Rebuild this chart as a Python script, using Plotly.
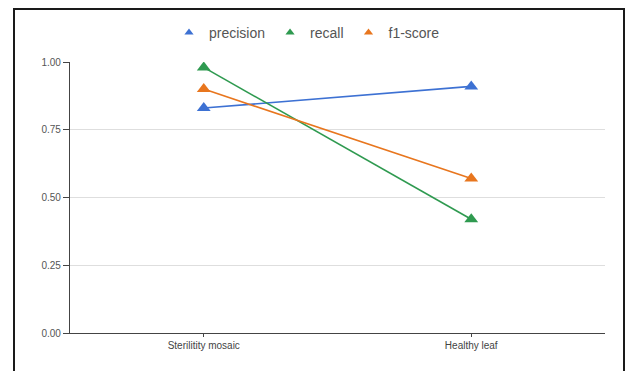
import plotly.graph_objects as go

# Per-class metrics
classes = ["Sterilitity mosaic", "Healthy leaf"]
precision = [0.83, 0.91]
recall = [0.98, 0.42]
f1_score = [0.90, 0.57]

y_ticks = [0.00, 0.25, 0.50, 0.75, 1.00]

series = [
    ("precision", precision, "#3d71d3"),
    ("recall", recall, "#2f9a50"),
    ("f1-score", f1_score, "#e8761e"),
]

fig = go.Figure()
for name, vals, color in series:
    fig.add_trace(go.Scatter(
        x=classes, y=vals, mode="lines+markers", name=name,
        line=dict(color=color, width=1.6),
        marker=dict(symbol="triangle-up", size=12, color=color),
        showlegend=False,
    ))
# marker-only legend entries
for name, vals, color in series:
    fig.add_trace(go.Scatter(
        x=[None], y=[None], mode="markers", name=name,
        marker=dict(symbol="triangle-up", size=8, color=color),
    ))

W, H = 626, 371
ml, mr, mt, mb = 70, 21, 62, 38
pw, ph = W - ml - mr, H - mt - mb

def px_x(x):
    return (x - ml) / pw

def px_y(y):
    return (H - mb - y) / ph

# outer frame (left, top, right edges)
frame = dict(color="#1a1a1a", width=2)
fig.add_shape(type="line", xref="paper", yref="paper",
              x0=px_x(14), x1=px_x(14), y0=px_y(9), y1=px_y(375), line=frame)
fig.add_shape(type="line", xref="paper", yref="paper",
              x0=px_x(13), x1=px_x(625), y0=px_y(9), y1=px_y(9), line=frame)
fig.add_shape(type="line", xref="paper", yref="paper",
              x0=px_x(624), x1=px_x(624), y0=px_y(9), y1=px_y(375), line=frame)

fig.update_layout(
    width=W, height=H,
    margin=dict(l=ml, r=mr, t=mt, b=mb),
    paper_bgcolor="white", plot_bgcolor="white",
    font=dict(family="Arial, Liberation Sans, sans-serif", color="#555555"),
    legend=dict(orientation="h", x=px_x(307), xanchor="center", y=px_y(33), yanchor="middle",
                font=dict(size=14, color="#555555"), bgcolor="rgba(0,0,0,0)"),
    xaxis=dict(type="category", range=[-0.5, 1.5], showgrid=False,
               showline=True, linecolor="#444444", linewidth=1.2,
               ticks="outside", ticklen=3, tickcolor="#444444",
               tickfont=dict(size=10, color="#444444")),
    yaxis=dict(range=[0, 1], tickvals=y_ticks, tickformat=".2f",
               showgrid=True, gridcolor="#dedede", gridwidth=1,
               showline=True, linecolor="#444444", linewidth=1.2,
               ticks="outside", ticklen=6, tickcolor="#444444",
               tickfont=dict(size=10, color="#555555"), zeroline=False),
)

fig.write_html("out.html")
